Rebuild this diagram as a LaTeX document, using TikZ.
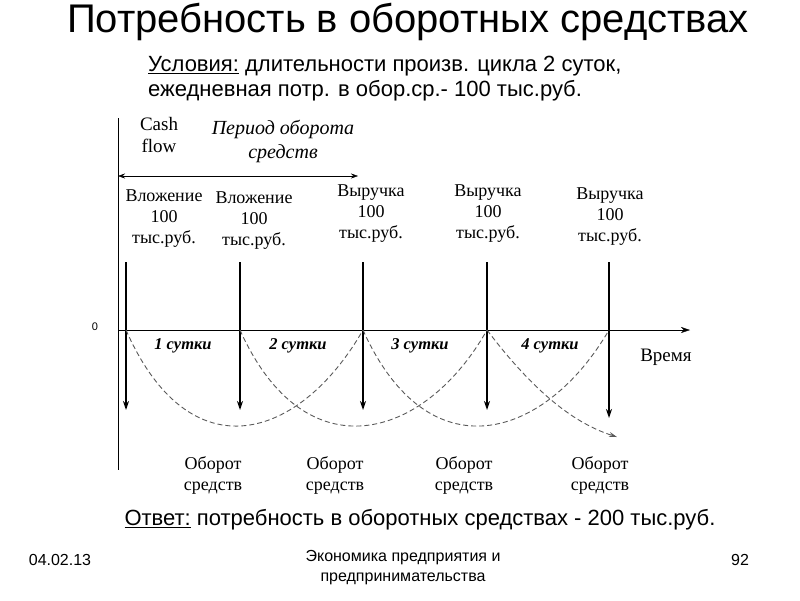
\documentclass[tikz,border=0pt]{standalone}
\usepackage{fontspec}
\setmainfont{Liberation Serif}
\newfontfamily\sansf{Liberation Sans}
\usetikzlibrary{arrows.meta}
\begin{document}
\begin{tikzpicture}[x=1pt,y=-1pt,
  lab/.style={font=\fontsize{18}{21}\selectfont,align=center,inner sep=0pt},
  day/.style={font=\fontsize{16.5}{18}\selectfont\bfseries\itshape,inner sep=0pt},
  flow/.style={line width=1.3pt,-{Stealth[length=9pt,width=6pt]}},
  curve/.style={dash pattern=on 5pt off 3pt,gray!70!black,line width=0.9pt},
  sans/.style={font=\sansf\fontsize{22}{25}\selectfont,inner sep=0pt}]
\useasboundingbox (0,0) rectangle (800,600);
\node[font=\sansf\fontsize{40}{44}\selectfont] (title) at (408,22) {Потребность в оборотных средствах};
\node[sans,align=left,anchor=west] (cond) at (148,79) {\underline{Условия:} длительности произв. цикла 2 суток,\\ежедневная потр. в обор.ср.- 100 тыс.руб.};
% axes
\coordinate (vt) at (118,118); \coordinate (vb) at (118,470);
\draw[line width=1pt] (vt) -- (vb);
\coordinate (hl) at (118,330); \coordinate (hr) at (690,330);
\draw[-{Stealth[length=9pt,width=6pt]}] (hl) -- (hr);
\coordinate (pl) at (118,176); \coordinate (pr) at (358,176);
\draw[{Stealth[length=7pt,width=5pt]}-{Stealth[length=7pt,width=5pt]}] (pl) -- (pr);
\node[lab,font=\fontsize{19}{22}\selectfont] (cash) at (159,135) {Cash\\flow};
\node[lab,font=\fontsize{20}{24}\selectfont\itshape] (per) at (283,141) {Период оборота\\средств};
\node[font=\sansf\fontsize{11}{12}\selectfont] (zero) at (95,327) {0};
\node[lab,font=\fontsize{19}{22}\selectfont] (vrem) at (666,357) {Время};
% top labels
\node[lab] (t1) at (164,219) {Вложение\\100\\тыс.руб.};
\node[lab] (t2) at (254,221) {Вложение\\100\\тыс.руб.};
\node[lab] (t3) at (371,214) {Выручка\\100\\тыс.руб.};
\node[lab] (t4) at (488,214) {Выручка\\100\\тыс.руб.};
\node[lab] (t5) at (610,217) {Выручка\\100\\тыс.руб.};
% arrows
\foreach \n/\x/\e in {1/126/410,2/240/410,3/363/410,4/487/410,5/609/418}{
  \coordinate (a\n) at (\x,262); \coordinate (b\n) at (\x,\e); \coordinate (o\n) at (\x,330);
  \draw[flow] (a\n) -- (b\n);}
% day labels
\node[day] (d1) at (183,346) {1 сутки};
\node[day] (d2) at (298,346) {2 сутки};
\node[day] (d3) at (420,346) {3 сутки};
\node[day] (d4) at (550,346) {4 сутки};
% curves
\draw[curve] (o1) .. controls (190,475) and (300,440) .. (o3);
\draw[curve] (o2) .. controls (305,475) and (425,440) .. (o4);
\draw[curve] (o3) .. controls (428,475) and (545,440) .. (o5);
\coordinate (ce) at (617,437);
\draw[curve,-{Stealth[length=8pt,width=5pt]}] (o4) .. controls (540,400) and (580,425) .. (ce);
% bottom labels
\node[lab] (u1) at (213,475) {Оборот\\средств};
\node[lab] (u2) at (335,475) {Оборот\\средств};
\node[lab] (u3) at (464,475) {Оборот\\средств};
\node[lab] (u4) at (600,475) {Оборот\\средств};
\node[sans] (ans) at (420,520) {\underline{Ответ:} потребность в оборотных средствах - 200 тыс.руб.};
\node[font=\sansf\fontsize{16}{20}\selectfont] (f1) at (60,560) {04.02.13};
\node[font=\sansf\fontsize{16}{20}\selectfont,align=center] (f2) at (403,568) {Экономика предприятия и\\предпринимательства};
\node[font=\sansf\fontsize{16}{20}\selectfont] (f3) at (740,560) {92};
\end{tikzpicture}
\end{document}
